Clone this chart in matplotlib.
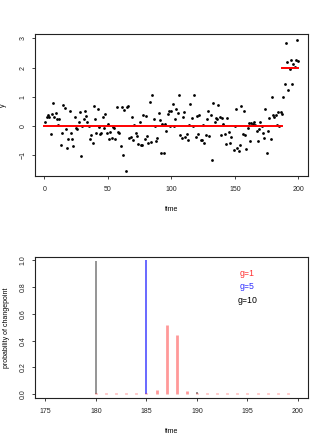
import numpy as np
import matplotlib
matplotlib.use("Agg")
import matplotlib.pyplot as plt

plt.rcParams['font.family'] = ['Liberation Sans', 'DejaVu Sans']

y_obs = [0.16, 0.31, 0.37, 0.32, -0.27, 0.42, 0.80, 0.32, 0.45, 0.25,
         0.03, 0.26, -0.64, -0.25, 0.74, 0.62, -0.09, -0.74, -0.43, 0.51,
         -0.25, -0.45, -0.69, 0.32, -0.05, -0.11, 0.15, 0.47, -1.01, 0.01,
         0.25, 0.51, 0.35, 0.14, 0.01, -0.45, -0.30, -0.57, 0.68, 0.26,
         -0.23, 0.60, -0.03, -0.28, -0.24, 0.31, -0.06, 0.42, -0.25, 0.06,
         -0.45, -0.19, -0.40, -0.03, -0.06, -0.45, 0.66, -0.20, -0.23, -0.67,
         0.64, -0.98, 0.55, -1.52, 0.67, 0.70, -0.41, -0.38, 0.30, -0.47,
         0.05, -0.23, -0.35, -0.60, 0.14, -0.63, -0.63, 0.38, -0.45, 0.36,
         -0.35, -0.59, 0.83, -0.53, 1.05, 0.26, -0.01, -0.50, -0.39, 0.45,
         0.20, -0.93, 0.09, -0.92, 0.09, -0.18, 0.40, 0.51, 0.01, 0.52,
         0.76, 0.02, 0.26, 0.58, 0.45, 1.08, -0.30, -0.40, 0.30, 0.48,
         -0.38, -0.26, -0.48, 0.03, 0.76, 0.28, 0.02, 1.06, -0.38, 0.35,
         -0.28, 0.39, -0.48, -0.48, 0.05, -0.58, -0.31, 0.23, 0.52, -0.34,
         0.39, -1.14, 0.80, 0.16, 0.27, 0.23, 0.73, 0.32, -0.30, 0.27,
         0.09, -0.26, -0.60, 0.28, -0.20, -0.59, -0.38, -0.83, 0.01, 0.59,
         -0.75, -0.85, -0.65, 0.69, -0.26, 0.51, -0.31, -0.77, -0.05, 0.10,
         -0.52, 0.11, 0.08, 0.14, 0.03, -0.15, -0.51, -0.09, 0.15, 0.00,
         -0.25, -0.39, 0.60, -0.92, -0.17, 0.28, -0.44, 0.99, 0.39, 0.33,
         0.39, 0.05, 0.48, 0.00, 0.48, 0.41, 1.00, 1.43, 2.83, 2.18,
         1.23, 1.95, 2.27, 1.45, 2.12, 2.02, 2.25, 2.95, 2.23]
time_obs = list(range(1, 148)) + list(range(149, 201))

# fitted segment means
seg_start = [0, 187]
seg_end = [187, 200]
seg_mean = [0.0, 2.0]

# posterior changepoint probabilities
cp_time = list(range(180, 200))
prob_g1 = [0.01, 0.01, 0.01, 0.01, 0.01, 0.012, 0.03, 0.52, 0.44, 0.022,
           0.01, 0.01, 0.01, 0.01, 0.01, 0.01, 0.01, 0.01, 0.01, 0.01]
prob_g5 = [0, 0, 0, 0, 0, 1.0, 0, 0, 0, 0,
           0, 0, 0, 0, 0, 0, 0, 0, 0, 0]
prob_g10 = [0.99, 0, 0, 0, 0, 0, 0, 0, 0, 0,
            0.015, 0, 0, 0, 0, 0, 0, 0, 0, 0]
legend_labels = ["g=1", "g=5", "g=10"]
legend_colors = ["#ff3030", "#3030ff", "black"]

fig = plt.figure(figsize=(3.27, 4.43), dpi=100)
ax1 = fig.add_axes([0.108, 0.603, 0.834, 0.320])
ax2 = fig.add_axes([0.108, 0.1016, 0.834, 0.319])

fs = 5

def r_style(ax):
    for s in ax.spines.values():
        s.set_linewidth(0.8)
        s.set_color("#222222")
    ax.tick_params(direction="out", length=2.5, width=0.6, labelsize=fs,
                   colors="#222222")
    ax.tick_params(axis="x", pad=5)
    ax.tick_params(axis="y", pad=4, labelrotation=90)
    for lab in ax.get_yticklabels():
        lab.set_va("center")

# top: series with segment means
ax1.plot(time_obs, y_obs, "o", color="black", markersize=2.0,
         markeredgewidth=0)
for a, b, m in zip(seg_start, seg_end, seg_mean):
    ax1.plot([a, b], [m, m], color="red", linewidth=1.4)
ax1.set_xlim(-7, 207.5)
ax1.set_ylim(-1.70, 3.15)
ax1.set_xticks([0, 50, 100, 150, 200])
ax1.set_yticks([-1, 0, 1, 2, 3])
ax1.set_xlabel("time", fontsize=fs, labelpad=9)
ax1.set_ylabel("y", fontsize=fs, labelpad=9)
r_style(ax1)

# bottom: changepoint probabilities
ax2.vlines(cp_time, 0, prob_g10, color="black", alpha=0.45, linewidth=1.3)
ax2.vlines(cp_time, 0, prob_g5, color="blue", alpha=0.75, linewidth=1.1)
ax2.vlines(cp_time, 0, prob_g1, color="red", alpha=0.4, linewidth=2.0)
ax2.set_xlim(174.0, 201.0)
ax2.set_ylim(-0.027, 1.025)
ax2.set_xticks([175, 180, 185, 190, 195, 200])
ax2.set_yticks([0.0, 0.2, 0.4, 0.6, 0.8, 1.0])
ax2.set_yticklabels(["0.0", "0.2", "0.4", "0.6", "0.8", "1.0"])
ax2.set_xlabel("time", fontsize=fs, labelpad=9)
ax2.set_ylabel("probability of changepoint", fontsize=fs, labelpad=7)
for i, (lab, col) in enumerate(zip(legend_labels, legend_colors)):
    ax2.text(195, 0.9 - 0.1 * i, lab, color=col, fontsize=6.3,
             ha="center", va="center")
r_style(ax2)

fig.savefig("out.png", dpi=100)
